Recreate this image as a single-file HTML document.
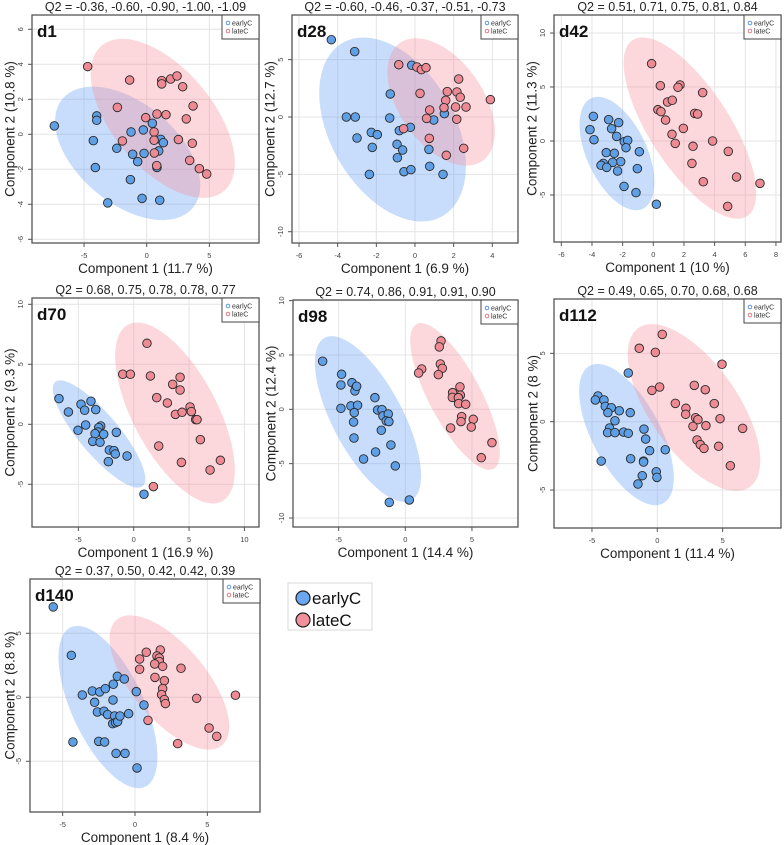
<!DOCTYPE html>
<html><head><meta charset="utf-8">
<style>
html,body{margin:0;padding:0;background:#fff;}
svg{display:block;font-family:"Liberation Sans",sans-serif;}
</style></head>
<body>
<svg id="chart" width="784" height="845" viewBox="0 0 784 845" xmlns="http://www.w3.org/2000/svg"></svg>
<script>
// ---- data: d1 ----
const d1_earlyX=[-7.37,-3.99,-3.99,-4.26,-4.10,-2.39,-1.25,-1.12,-0.72,-0.27,-0.21,-1.30,0.45,1.12,1.33,0.96,0.82,-0.37,-3.11,1.04];
const d1_earlyY=[0.48,1.05,0.80,-0.36,-1.90,-0.80,0.13,-1.14,-1.56,0.25,-1.09,-2.59,0.63,-0.29,-0.48,-0.95,-1.90,-3.66,-3.92,-3.77];
const d1_lateX=[-4.71,-1.36,1.20,1.20,1.91,2.42,2.87,3.70,-2.34,1.54,0.82,-0.08,3.16,0.59,-1.94,0.59,2.53,3.64,0.61,0.80,3.43,4.20,4.79];
const d1_lateY=[3.87,3.10,3.07,2.88,3.16,3.33,2.72,1.62,1.54,1.12,1.16,0.95,0.88,0.13,-0.38,-0.34,-0.30,-0.51,-1.07,-1.79,-1.49,-1.96,-2.27];
// ---- data: d28 ----
const d28_earlyX=[-4.33,-3.12,-3.55,-3.09,-3.00,-2.26,-1.95,-2.21,-1.28,-1.31,-0.81,-0.24,-0.93,-0.64,-0.91,-0.17,-2.36,-0.57,-0.21,0.72,0.76,0.97,1.52,1.45];
const d28_earlyY=[6.74,5.70,0,0,-1.83,-1.34,-1.54,-2.65,2.01,-0.09,-1.19,-0.90,-2.38,-2.88,-3.55,4.51,-5.0,-4.77,-4.59,-2.82,-4.30,-0.26,0.29,-5.0];
const d28_lateX=[-0.84,0.10,0.33,0.57,2.26,1.67,2.17,2.34,0.26,1.59,1.50,2.10,2.64,3.90,0.76,0.60,2.16,-0.59,0.74,2.52,1.62];
const d28_lateY=[4.56,4.36,4.13,4.30,3.31,2.21,2.18,1.72,2.06,1.45,0.81,0.87,0.87,1.51,0.61,-0.12,-0.20,-1.02,-1.86,-2.73,-3.34];
// ---- data: d42 ----
const d42_earlyX=[-3.91,-4.13,-3.87,-2.91,-2.72,-2.26,-2.39,-1.89,-1.67,-1.78,-3.07,-2.54,-0.91,-2.13,-2.65,-3.26,-3.41,-3.04,-2.33,-1.04,-1.91,-1.13,0.20];
const d42_earlyY=[2.28,1.05,0.12,1.98,1.14,1.70,0.43,-0.06,0.06,-0.62,-1.08,-1.14,-0.99,-1.91,-1.98,-2.07,-2.25,-2.44,-2.78,-2.56,-4.20,-4.78,-5.86];
const d42_lateX=[-0.11,0.46,1.74,1.61,3.22,0.93,1.24,0.30,0.50,2.70,2.89,0.80,1.96,1.22,1.43,3.87,2.59,4.89,2.52,3.26,5.43,6.96,4.85];
const d42_lateY=[7.16,5.12,5.19,4.97,4.48,3.61,3.77,2.90,2.72,2.56,2.50,1.94,1.17,0.62,-0.22,0,-0.49,-0.96,-2.07,-3.77,-3.33,-3.92,-6.05];
// ---- data: d70 ----
const d70_earlyX=[-6.75,-5.90,-4.76,-4.43,-3.86,-3.43,-4.34,-5.03,-2.98,-3.16,-3.22,-3.49,-2.71,-3.70,-3.04,-1.57,-2.20,-1.78,-1.66,-0.60,-2.29,0.93];
const d70_earlyY=[2.14,1.03,1.67,1.17,1.92,1.22,-0.06,-0.50,-0.14,-0.28,-0.64,-0.78,-0.83,-1.42,-1.50,-0.67,-2.14,-2.19,-2.47,-2.64,-3.11,-5.83];
const d70_lateX=[1.20,-0.99,-0.30,1.51,4.19,3.52,4.19,2.08,3.04,5.09,5.21,3.77,4.37,5.60,5.72,6.02,2.26,4.31,6.90,7.83,1.78];
const d70_lateY=[6.75,4.17,4.17,4.03,3.92,3.33,2.86,2.22,1.78,1.44,1.06,0.83,1.0,0.39,0.39,-1.28,-1.81,-3.17,-3.81,-3.0,-5.19];
// ---- data: d98 ----
const d98_earlyX=[-6.20,-4.78,-4.83,-4.00,-3.70,-3.78,-3.65,-4.83,-4.08,-3.58,-3.83,-3.88,-3.85,-2.28,-2.08,-1.75,-1.68,-1.28,-1.43,-1.23,-1.80,-1.08,-2.23,-3.13,-0.75,-1.20,0.30];
const d98_earlyY=[4.42,3.22,2.24,2.45,2.02,1.69,2.12,0.09,0.31,0.37,-0.31,-1.17,-2.64,1.07,-0.06,-0.03,-0.61,-0.43,-1.07,-1.13,-1.93,-3.28,-3.93,-4.57,-5.21,-8.56,-8.34];
const d98_lateX=[2.68,2.55,2.63,2.78,1.23,1.0,2.48,4.10,3.55,3.53,4.13,3.98,4.0,4.53,4.23,4.18,3.40,5.10,4.95,6.50,5.70];
const d98_lateY=[6.29,5.74,4.17,3.77,3.71,3.34,3.19,2.06,1.53,1.10,1.29,1.07,0.52,0.46,-0.67,-1.13,-1.72,-0.92,-1.63,-3.07,-4.45];
// ---- data: d112 ----
const d112_earlyX=[-2.22,-4.54,-4.74,-4.08,-3.98,-3.52,-3.78,-2.91,-2.07,-3.24,-3.65,-3.80,-3.24,-2.58,-2.22,-1.02,-0.89,-0.59,0.61,-2.04,-1.05,-1.05,-4.29,-0.08,-0.03,-1.15,-1.48];
const d112_earlyY=[3.56,1.88,1.59,1.59,1.12,1.02,0.66,0.80,0.66,0.07,-0.46,-0.80,-0.80,-0.76,-0.85,-0.54,-1.27,-2.12,-2.05,-2.71,-2.88,-2.95,-2.88,-3.66,-4.07,-3.95,-4.56];
const d112_lateX=[0.38,-1.38,-0.15,4.95,2.83,3.67,-0.41,0.18,1.38,2.19,4.36,2.17,2.93,3.11,4.80,3.72,2.73,6.53,3.04,3.29,3.57,4.69,5.59];
const d112_lateY=[6.39,5.37,5.07,4.20,2.66,2.34,2.29,2.54,1.34,0.98,1.32,0.54,0.29,0.15,0.22,-0.29,-0.34,-0.49,-1.34,-1.68,-1.95,-1.80,-3.22];
// ---- data: d140 ----
const d140_earlyX=[-5.65,-4.40,-3.64,-2.95,-2.44,-2.05,-2.79,-2.60,-2.14,-1.89,-1.52,-1.22,-1.50,-0.74,-1.41,-1.54,-1.34,-1.20,-1.04,-0.44,0.09,0.62,-4.29,-2.51,-2.10,-1.31,-0.69,0.14];
const d140_earlyY=[7.06,3.28,0.18,0.49,0.42,0.68,-0.39,-1.15,-1.09,-1.35,-0.21,1.64,1.02,1.43,-1.46,-2.06,-1.98,-1.90,-1.46,-1.28,0.44,-0.60,-3.49,-3.44,-3.49,-4.38,-4.38,-5.52];
const d140_lateX=[0.78,1.75,0.32,1.52,1.68,1.68,1.91,1.36,0.32,3.18,1.38,2.03,1.91,1.84,2.03,2.10,4.26,6.94,0.90,5.12,5.65,2.95];
const d140_lateY=[3.52,3.70,2.99,3.23,3.07,2.79,2.42,2.60,2.19,2.27,1.56,1.30,0.68,0.21,-0.18,-0.49,-0.08,0.16,-1.80,-2.40,-3.05,-3.62];
// ---- tick labels ----
const d1_xTicks=[-5,0,5], d1_yTicks=[-6,-4,-2,0,2,4,6];
const d28_xTicks=[-6,-4,-2,0,2,4], d28_yTicks=[-10,-5,0,5];
const d42_xTicks=[-6,-4,-2,0,2,4,6,8], d42_yTicks=[-5,0,5,10];
const d70_xTicks=[-5,0,5,10], d70_yTicks=[-5,0,5,10];
const d98_xTicks=[-5,0,5], d98_yTicks=[-10,-5,0,5,10];
const d112_xTicks=[-5,0,5], d112_yTicks=[-5,0,5];
const d140_xTicks=[-5,0,5], d140_yTicks=[-5,0,5];
// ---- ellipse centres (data units) ----
const d1_ellCenters=[[-1.52,-1.09],[1.28,0.91]];
const d28_ellCenters=[[-1.16,-1.09],[1.35,1.31]];
const d42_ellCenters=[[-2.37,-1.16],[2.39,1.20]];
const d70_ellCenters=[[-3.13,-0.81],[3.73,0.94]];
const d98_ellCenters=[[-2.80,-0.89],[3.73,1.18]];
const d112_ellCenters=[[-2.36,-0.94],[2.81,1.04]];
const d140_ellCenters=[[-1.87,-0.76],[2.38,1.16]];
const titles=["Q2 = -0.36, -0.60, -0.90, -1.00, -1.09","Q2 = -0.60, -0.46, -0.37, -0.51, -0.73","Q2 = 0.51, 0.71, 0.75, 0.81, 0.84","Q2 = 0.68, 0.75, 0.78, 0.78, 0.77","Q2 = 0.74, 0.86, 0.91, 0.91, 0.90","Q2 = 0.49, 0.65, 0.70, 0.68, 0.68","Q2 = 0.37, 0.50, 0.42, 0.42, 0.39"];

// ---- layout (pixels) ----
const panels=[
 {id:'d1',box:[32,15,259,243],x0:146.7,xk:12.53,y0:134.3,yk:17.5,ex:[d1_earlyX,d1_earlyY],lx:[d1_lateX,d1_lateY],xt:d1_xTicks,yt:d1_yTicks,ec:d1_ellCenters,ell:[[85,50,40],[95,50,50]],xl:'Component 1 (11.7 %)',yl:'Component 2 (10.8 %)',ylx:10},
 {id:'d28',box:[292,15,518,243],x0:415,xk:19.33,y0:117,yk:11.47,ex:[d28_earlyX,d28_earlyY],lx:[d28_lateX,d28_lateY],xt:d28_xTicks,yt:d28_yTicks,ec:d28_ellCenters,ell:[[100,62,60],[72,42,55]],xl:'Component 1 (6.9 %)',yl:'Component 2 (12.7 %)',ylx:270},
 {id:'d42',box:[554,15,781,242],x0:653.3,xk:15.33,y0:141,yk:10.8,ex:[d42_earlyX,d42_earlyY],lx:[d42_lateX,d42_lateY],xt:d42_xTicks,yt:d42_yTicks,ec:d42_ellCenters,ell:[[61,30,65],[105,40,57]],xl:'Component 1 (10 %)',yl:'Component 2 (11.3 %)',ylx:532},
 {id:'d70',box:[32,298,259,527],x0:133.7,xk:11.07,y0:424.3,yk:12,ex:[d70_earlyX,d70_earlyY],lx:[d70_lateX,d70_lateY],xt:d70_xTicks,yt:d70_yTicks,ec:d70_ellCenters,ell:[[68,20,50],[100,42,62]],xl:'Component 1 (16.9 %)',yl:'Component 2 (9.3 %)',ylx:10},
 {id:'d98',box:[293,300,518,527],x0:405.3,xk:13.33,y0:409.3,yk:10.87,ex:[d98_earlyX,d98_earlyY],lx:[d98_lateX,d98_lateY],xt:d98_xTicks,yt:d98_yTicks,ec:d98_ellCenters,ell:[[92,35,62],[82,26,62]],xl:'Component 1 (14.4 %)',yl:'Component 2 (12.4 %)',ylx:271},
 {id:'d112',box:[554,299,781,528],x0:657.3,xk:13.07,y0:421.7,yk:13.67,ex:[d112_earlyX,d112_earlyY],lx:[d112_lateX,d112_lateY],xt:d112_xTicks,yt:d112_yTicks,ec:d112_ellCenters,ell:[[78,34,62],[97,44,55]],xl:'Component 1 (11.4 %)',yl:'Component 2 (8 %)',ylx:533},
 {id:'d140',box:[30,579,260,812],x0:135,xk:14.47,y0:697.3,yk:12.8,ex:[d140_earlyX,d140_earlyY],lx:[d140_lateX,d140_lateY],xt:d140_xTicks,yt:d140_yTicks,ec:d140_ellCenters,ell:[[88,36,65],[82,37,50]],xl:'Component 1 (8.4 %)',yl:'Component 2 (8.8 %)',ylx:10}
];
const NS='http://www.w3.org/2000/svg';
const svg=document.getElementById('chart');
function mk(tag,attrs,parent,text){const e=document.createElementNS(NS,tag);for(const k in attrs)e.setAttribute(k,attrs[k]);if(text!==undefined)e.textContent=text;(parent||svg).appendChild(e);return e;}
panels.forEach((p,i)=>{
 const [L,T,R,B]=p.box;
 const sx=v=>p.x0+v*p.xk, sy=v=>p.y0-v*p.yk;
 const g=mk('g',{});
 
 
 const clipId='clip'+i;
 const cp=mk('clipPath',{id:clipId},g);mk('rect',{x:L,y:T,width:R-L,height:B-T},cp);
 const t=mk('text',{x:(L+R)/2,y:T-4,'text-anchor':'middle','font-size':12.5,fill:'#222'},g,titles[i]);
 
 
 // grid
 p.xt.forEach(v=>{const l=mk('line',{x1:sx(v),x2:sx(v),y1:T,y2:B,stroke:'#e4e4e4','stroke-width':1},g);
  
  
  mk('line',{x1:sx(v),x2:sx(v),y1:B,y2:B+4,stroke:'#555'},g);
  const tl=mk('text',{x:sx(v),y:B+15,'text-anchor':'middle','font-size':7.5,fill:'#444'},g,String(v));
  
  });
 p.yt.forEach(v=>{const l=mk('line',{x1:L,x2:R,y1:sy(v),y2:sy(v),stroke:'#e4e4e4','stroke-width':1},g);
  
  
  mk('line',{x1:L-4,x2:L,y1:sy(v),y2:sy(v),stroke:'#555'},g);
  const tl=mk('text',{x:L-9,y:sy(v),'text-anchor':'middle','font-size':7.5,fill:'#444',transform:`rotate(-90 ${L-9} ${sy(v)})`},g,String(v));
  
  });
 const inner=mk('g',{'clip-path':`url(#${clipId})`},g);
 // ellipses
 const fills=['rgba(110,165,245,0.38)','rgba(245,140,155,0.35)'];
 p.ec.forEach((c,k)=>{const [a,b,ang]=p.ell[k];const cx=sx(c[0]),cy=sy(c[1]);
  const e=mk('ellipse',{cx:cx,cy:cy,rx:a,ry:b,fill:fills[k],transform:`rotate(${ang} ${cx} ${cy})`},inner);
  
  });
 // points
 const groups=[[p.ex,'#5f9fe6','earlyc-point'],[p.lx,'#ee8a94','latec-point']];
 groups.forEach(([d,col,nm])=>{d[0].forEach((xv,j)=>{
  const c=mk('circle',{cx:sx(xv),cy:sy(d[1][j]),r:4.3,fill:col,stroke:'#2a2a2a','stroke-width':0.9},inner);
  
  });});
 // frame
 mk('rect',{x:L,y:T,width:R-L,height:B-T,fill:'none',stroke:'#555','stroke-width':1.3},g);
 const dl=mk('text',{x:L+5,y:T+22,'font-size':17,'font-weight':'bold',fill:'#111'},g,p.id);
 
 
 // small legend
 const lg=mk('g',{},g);
 
 
 mk('rect',{x:R-37,y:T,width:37,height:24,fill:'#fff',stroke:'#444','stroke-width':1},lg);
 mk('circle',{cx:R-31,cy:T+8,r:1.8,fill:'none',stroke:'#4a8de0','stroke-width':0.9},lg);
 mk('circle',{cx:R-31,cy:T+16,r:1.8,fill:'none',stroke:'#e06a78','stroke-width':0.9},lg);
 mk('text',{x:R-27,y:T+10.5,'font-size':7,fill:'#333'},lg,'earlyC');
 mk('text',{x:R-27,y:T+18.5,'font-size':7,fill:'#333'},lg,'lateC');
 const xl=mk('text',{x:(L+R)/2,y:B+30,'text-anchor':'middle','font-size':13.5,fill:'#222'},g,p.xl);
 
 
 const ym=(T+B)/2;
 const yl=mk('text',{x:p.ylx,y:ym,'text-anchor':'middle','dominant-baseline':'central','font-size':13.5,fill:'#222',transform:`rotate(-90 ${p.ylx} ${ym})`},g,p.yl);
 
 
});
// main legend
const ml=mk('g',{});


mk('rect',{x:288,y:583,width:84,height:47,fill:'#fff',stroke:'#d8d8d8','stroke-width':1},ml);
mk('circle',{cx:303,cy:598,r:7,fill:'#6aa7f0',stroke:'#222','stroke-width':1.2},ml);
mk('circle',{cx:303,cy:620,r:7,fill:'#f0909c',stroke:'#222','stroke-width':1.2},ml);
mk('text',{x:312,y:604,'font-size':17,fill:'#111'},ml,'earlyC');
mk('text',{x:312,y:626,'font-size':17,fill:'#111'},ml,'lateC');
</script>
</body></html>
